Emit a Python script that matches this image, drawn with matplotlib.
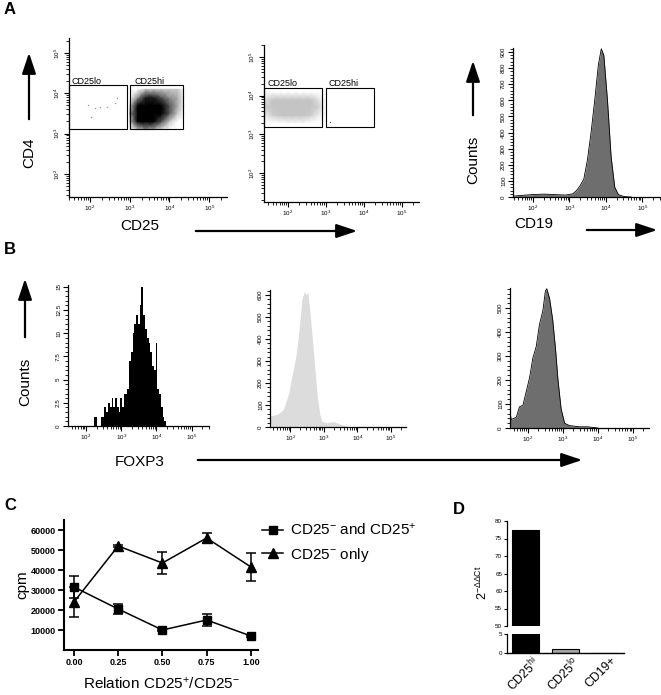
import numpy as np
import matplotlib.pyplot as plt
from matplotlib.patches import FancyArrowPatch, Rectangle
from matplotlib.colors import LinearSegmentedColormap
from matplotlib.transforms import ScaledTranslation
from matplotlib.ticker import FixedLocator, FuncFormatter, LogLocator, NullFormatter, MultipleLocator

plt.rcParams['font.family'] = ['Liberation Sans', 'DejaVu Sans']
plt.rcParams['mathtext.fontset'] = 'custom'
plt.rcParams['mathtext.rm'] = 'Liberation Sans'
plt.rcParams['mathtext.it'] = 'Liberation Sans:italic'
plt.rcParams['mathtext.bf'] = 'Liberation Sans:bold'

W, H = 661, 695

# ---- data (log10 units for flow axes) ----
# A1: CD4 vs CD25, density of the CD25hi cloud
a1_xc = [3.0, 3.2, 3.4, 3.6, 3.8, 4.0, 4.2, 4.4]
a1_yc = [3.1, 3.3, 3.5, 3.7, 3.9, 4.1]
a1_dens = [
    [0.0, 0.1, 0.2, 0.15, 0.05, 0.0, 0.0, 0.0],
    [0.1, 0.6, 0.8, 0.6, 0.3, 0.1, 0.0, 0.0],
    [0.2, 0.9, 1.0, 1.0, 0.6, 0.3, 0.1, 0.0],
    [0.1, 0.7, 1.0, 0.9, 0.6, 0.3, 0.15, 0.0],
    [0.0, 0.2, 0.4, 0.4, 0.3, 0.2, 0.15, 0.0],
    [0.0, 0.0, 0.1, 0.1, 0.1, 0.1, 0.1, 0.0],
]
a1_lo_x = [1.96, 2.125, 2.25, 2.42, 2.67, 2.625, 2.02, 2.92]
a1_lo_y = [3.70, 3.64, 3.67, 3.67, 3.89, 3.77, 3.42, 3.60]

# A2: CD25-depleted cells, density in CD25lo gate
a2_xc = [1.4, 1.6, 1.8, 2.0, 2.2, 2.4, 2.6, 2.8, 3.0]
a2_yc = [3.3, 3.5, 3.7, 3.9, 4.1]
a2_dens = [
    [0.0, 0.0, 0.05, 0.1, 0.1, 0.1, 0.0, 0.0, 0.0],
    [0.2, 0.5, 0.6, 0.7, 0.7, 0.6, 0.5, 0.2, 0.0],
    [0.5, 0.9, 1.0, 1.0, 1.0, 1.0, 0.9, 0.5, 0.0],
    [0.3, 0.6, 0.7, 0.8, 0.8, 0.7, 0.6, 0.3, 0.0],
    [0.0, 0.0, 0.0, 0.0, 0.0, 0.0, 0.0, 0.0, 0.0],
]
a2_hi_x = [3.1]
a2_hi_y = [3.32]

# A3: CD19 histogram
cd19_x = [1.46, 1.6, 1.8, 2.0, 2.3, 2.6, 2.9, 3.1, 3.2, 3.3, 3.4, 3.5, 3.6, 3.7,
          3.8, 3.88, 3.95, 4.05, 4.15, 4.25, 4.35, 4.5, 4.7]
cd19_n = [5, 8, 12, 15, 18, 15, 12, 20, 40, 70, 110, 230, 400, 600,
          820, 920, 880, 600, 250, 60, 15, 3, 0]

# B1: FOXP3 in CD25hi (bins of 0.05 log)
foxp3_edges = np.round(np.arange(2.225, 4.30, 0.05), 3)
foxp3_hi = [1, 1, 0, 0, 1, 1, 2, 1.5, 2.5, 2, 3, 2, 3, 2, 1.5, 3, 2, 3.5, 3.5,
            4, 7, 8, 10, 11, 12, 11, 13, 15, 12, 10.5, 9.5, 9, 8, 6.5, 6, 9, 4,
            3.5, 2, 1, 0.5]

# B2: FOXP3 in CD25lo
foxp3_lo_x = [1.4, 1.55, 1.65, 1.8, 1.95, 2.05, 2.18, 2.25, 2.35, 2.42, 2.48,
              2.52, 2.58, 2.65, 2.72, 2.8, 2.88, 2.95, 3.1, 3.3, 3.45, 3.65, 3.8]
foxp3_lo_n = [50, 55, 60, 80, 150, 230, 330, 420, 580, 615, 600, 615, 540, 420,
              300, 150, 60, 25, 20, 25, 15, 5, 0]

# B3: FOXP3 in CD19+
foxp3_b_x = [1.49, 1.5, 1.52, 1.67, 1.76, 1.86, 1.95, 2.05, 2.14, 2.24, 2.33,
             2.43, 2.5, 2.54, 2.62, 2.71, 2.79, 2.86, 2.95, 3.05, 3.19, 3.48, 3.7, 4.0]
foxp3_b_n = [0, 60, 35, 45, 88, 95, 150, 210, 290, 340, 430, 490, 570, 580, 540,
             450, 330, 200, 80, 20, 10, 5, 5, 0]

# C: proliferation
ratio = [0.0, 0.25, 0.5, 0.75, 1.0]
cpm_mix = [31500, 20500, 10000, 15000, 7000]
cpm_mix_err = [5500, 2500, 600, 3000, 500]
cpm_only = [24000, 52000, 43500, 56000, 41500]
cpm_only_err = [7500, 700, 5500, 2500, 6800]

# D: qPCR
cells = ['CD25$^{\\mathrm{hi}}$', 'CD25$^{\\mathrm{lo}}$', 'CD19+']
ddct = [77.4, 1.05, 0.05]
bar_colors = ['black', '#a6a6a6', 'white']

fig = plt.figure(figsize=(W / 100, H / 100), dpi=100)


def rect(x0, y0, x1, y1):
    return [x0 / W, 1 - y1 / H, (x1 - x0) / W, (y1 - y0) / H]


def ftext(x, y, s, **kw):
    fig.text(x / W, 1 - y / H, s, **kw)


def arrow(x0, y0, x1, y1):
    fig.add_artist(FancyArrowPatch((x0 / W, 1 - y0 / H), (x1 / W, 1 - y1 / H),
                                   transform=fig.transFigure,
                                   arrowstyle='-|>,head_length=0.9,head_width=0.3',
                                   mutation_scale=14, lw=1.6, color='black'))


def pow_label(v, pos):
    return '$10^{%d}$' % int(round(np.log10(v)))


def log_axis(axis):
    axis.set_major_locator(FixedLocator([1e2, 1e3, 1e4, 1e5]))
    axis.set_major_formatter(FuncFormatter(pow_label))
    axis.set_minor_locator(LogLocator(base=10, subs=np.arange(2, 10), numticks=30))
    axis.set_minor_formatter(NullFormatter())


def flow_axes(px, xlim):
    ax = fig.add_axes(rect(*px))
    ax.set_xscale('log')
    ax.set_xlim(10 ** xlim[0], 10 ** xlim[1])
    log_axis(ax.xaxis)
    for s in ['top', 'right']:
        ax.spines[s].set_visible(False)
    for s in ['left', 'bottom']:
        ax.spines[s].set_linewidth(0.9)
    ax.tick_params(which='major', labelsize=4.5, length=3.5, width=0.8, pad=1.5)
    ax.tick_params(which='minor', length=2, width=0.6)
    ax.tick_params(axis='y', labelrotation=90)
    return ax


def hist_y(ax, top, major, minor):
    ax.set_ylim(0, top)
    ax.yaxis.set_major_locator(MultipleLocator(major))
    ax.yaxis.set_minor_locator(MultipleLocator(minor))
    for lab in ax.get_yticklabels():
        lab.set_va('center')


black_cm = LinearSegmentedColormap.from_list('k', ['white', 'black'])
grey_cm = LinearSegmentedColormap.from_list('g', ['white', '#c4c4c4'])

# ---- A1 ----
ax = flow_axes((69, 38, 227, 197), (1.47, 5.45))
ax.set_yscale('log')
ax.set_ylim(10 ** 1.43, 10 ** 5.37)
log_axis(ax.yaxis)
X, Y = np.meshgrid(10 ** np.array(a1_xc), 10 ** np.array(a1_yc))
ax.pcolormesh(X, Y, np.array(a1_dens), shading='gouraud', cmap=black_cm,
              vmin=0, vmax=0.45, antialiased=False, edgecolors='none')
ax.scatter(10 ** np.array(a1_lo_x), 10 ** np.array(a1_lo_y), s=1, color='#999999', lw=0)
ax.add_patch(Rectangle((10 ** 1.47, 10 ** 3.125), 10 ** 2.93 - 10 ** 1.47, 10 ** 4.2 - 10 ** 3.125,
                       fill=False, lw=0.8, clip_on=False, zorder=3))
ax.add_patch(Rectangle((10 ** 3.0, 10 ** 3.125), 10 ** 4.35 - 10 ** 3.0, 10 ** 4.2 - 10 ** 3.125,
                       fill=False, lw=0.8, zorder=3))
ax.text(10 ** 1.53, 10 ** 4.24, 'CD25lo', fontsize=6.5)
ax.text(10 ** 3.12, 10 ** 4.24, 'CD25hi', fontsize=6.5)
for lab in ax.get_yticklabels():
    lab.set_va('center')

# ---- A2 ----
ax = flow_axes((264, 45, 419, 202), (1.37, 5.45))
ax.set_yscale('log')
ax.set_ylim(10 ** 1.25, 10 ** 5.31)
log_axis(ax.yaxis)
X, Y = np.meshgrid(10 ** np.array(a2_xc), 10 ** np.array(a2_yc))
ax.pcolormesh(X, Y, np.array(a2_dens), shading='gouraud', cmap=grey_cm,
              vmin=0, vmax=0.6, antialiased=False, edgecolors='none')
ax.scatter(10 ** np.array(a2_hi_x), 10 ** np.array(a2_hi_y), s=1, color='#555555', lw=0)
ax.add_patch(Rectangle((10 ** 1.37, 10 ** 3.19), 10 ** 2.89 - 10 ** 1.37, 10 ** 4.21 - 10 ** 3.19,
                       fill=False, lw=0.8, clip_on=False, zorder=3))
ax.add_patch(Rectangle((10 ** 3.0, 10 ** 3.19), 10 ** 4.26 - 10 ** 3.0, 10 ** 4.21 - 10 ** 3.19,
                       fill=False, lw=0.8, zorder=3))
ax.text(10 ** 1.45, 10 ** 4.25, 'CD25lo', fontsize=6.5)
ax.text(10 ** 3.07, 10 ** 4.25, 'CD25hi', fontsize=6.5)
for lab in ax.get_yticklabels():
    lab.set_va('center')

# ---- A3 ----
ax = flow_axes((513, 48, 660, 197), (1.46, 5.49))
hist_y(ax, 925, 100, 20)
ax.fill_between(10 ** np.array(cd19_x), cd19_n, color='#6e6e6e', lw=0)
ax.plot(10 ** np.array(cd19_x), cd19_n, color='black', lw=0.6)

# ---- B1 ----
ax = flow_axes((68, 285, 209, 426), (1.49, 5.49))
hist_y(ax, 15.2, 2.5, 0.5)
ax.yaxis.set_major_formatter(FuncFormatter(lambda v, p: ('%g' % v)))
ax.stairs(foxp3_hi, 10 ** foxp3_edges, fill=True, color='black')

# ---- B2 ----
ax = flow_axes((270, 290, 406, 427), (1.4, 5.45))
hist_y(ax, 623, 100, 20)
ax.fill_between(10 ** np.array(foxp3_lo_x), foxp3_lo_n, color='#dcdcdc', lw=0)

# ---- B3 ----
ax = flow_axes((510, 288, 649, 428), (1.49, 5.46))
hist_y(ax, 583, 100, 20)
ax.fill_between(10 ** np.array(foxp3_b_x), foxp3_b_n, color='#6e6e6e', lw=0)
ax.plot(10 ** np.array(foxp3_b_x), foxp3_b_n, color='black', lw=0.6)

# ---- panel A/B annotations ----
ftext(10, 10, 'A', fontsize=12, fontweight='bold', ha='center', va='center')
ftext(10, 250, 'B', fontsize=12, fontweight='bold', ha='center', va='center')
ftext(29, 153, 'CD4', fontsize=11, rotation=90, ha='center', va='center')
arrow(29, 122, 29, 50)
ftext(140, 226, 'CD25', fontsize=11, ha='center', va='center')
arrow(193, 231, 360, 231)
ftext(473, 160, 'Counts', fontsize=11, rotation=90, ha='center', va='center')
arrow(473, 118, 473, 58)
ftext(534, 224, 'CD19', fontsize=11, ha='center', va='center')
arrow(584, 230, 660, 230)
ftext(25, 382, 'Counts', fontsize=11, rotation=90, ha='center', va='center')
arrow(25, 340, 25, 276)
ftext(140, 462, 'FOXP3', fontsize=11, ha='center', va='center')
arrow(195, 460, 585, 460)

# ---- C ----
axc = fig.add_axes(rect(64, 520, 258, 650))
axc.errorbar(ratio, cpm_mix, yerr=cpm_mix_err, color='black', marker='s', ms=6,
             lw=1.1, elinewidth=1.1, capsize=3.5, capthick=1.1,
             label='CD25$^{-}$ and CD25$^{+}$')
axc.errorbar(ratio, cpm_only, yerr=cpm_only_err, color='black', marker='^', ms=6.5,
             lw=1.1, elinewidth=1.1, capsize=3.5, capthick=1.1,
             label='CD25$^{-}$ only')
axc.set_xlim(-0.056, 1.04)
axc.set_ylim(0, 65000)
axc.set_xticks(ratio)
axc.set_xticklabels(['%.2f' % r for r in ratio])
axc.set_yticks([10000, 20000, 30000, 40000, 50000, 60000])
for s in ['top', 'right']:
    axc.spines[s].set_visible(False)
for s in ['left', 'bottom']:
    axc.spines[s].set_linewidth(1.5)
axc.tick_params(labelsize=6.5, width=1.3, length=4, pad=2)
for lab in axc.get_xticklabels() + axc.get_yticklabels():
    lab.set_fontweight('bold')
axc.set_xlabel('Relation CD25$^{+}$/CD25$^{-}$', fontsize=11, labelpad=6)
axc.set_ylabel('cpm', fontsize=11, labelpad=1)
handles, labels = axc.get_legend_handles_labels()
handles = [h[0] for h in handles]
fig.legend(handles, labels, loc='upper left', bbox_to_anchor=(262 / W, 1 - 522 / H),
           frameon=False, fontsize=11, handlelength=1.4, handletextpad=0.4,
           labelspacing=0.5, borderaxespad=0, borderpad=0)
ftext(10, 505, 'C', fontsize=12, fontweight='bold', ha='center', va='center')

# ---- D ----
xpos = np.arange(len(cells))
axu = fig.add_axes(rect(507, 521, 624, 626))
axl = fig.add_axes(rect(507, 634, 624, 653))
for a in (axu, axl):
    a.bar(xpos, ddct, width=0.68, color=bar_colors, edgecolor='black', lw=0.8)
    a.set_xlim(-0.47, 2.49)
    for s in ['top', 'right']:
        a.spines[s].set_visible(False)
    a.spines['left'].set_linewidth(0.9)
    a.tick_params(axis='y', labelsize=4.5, length=2.5, width=0.8, pad=1)
axu.set_ylim(50, 80)
axu.set_yticks([50, 55, 60, 65, 70, 75, 80])
axu.spines['bottom'].set_visible(False)
axu.set_xticks([])
axl.set_ylim(0, 5)
axl.set_yticks([0, 5])
axl.spines['bottom'].set_linewidth(1.0)
axl.set_xticks(xpos)
axl.set_xticklabels(cells, rotation=45, ha='right', rotation_mode='anchor', fontsize=8.8)
axl.tick_params(axis='x', length=0, pad=1)
shift = ScaledTranslation(6 / 100, 0, fig.dpi_scale_trans)
for lab in axl.get_xticklabels():
    lab.set_transform(lab.get_transform() + shift)
ftext(482, 583, '$2^{-\\Delta\\Delta\\mathrm{Ct}}$', fontsize=9, rotation=90, ha='center', va='center')
ftext(459, 510, 'D', fontsize=12, fontweight='bold', ha='center', va='center')

fig.savefig('out.png', dpi=100)
